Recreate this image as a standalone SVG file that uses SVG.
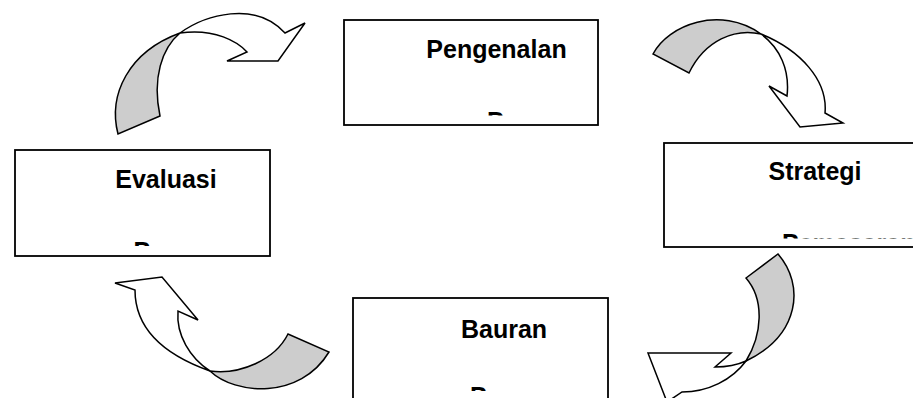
<svg xmlns="http://www.w3.org/2000/svg" width="913" height="398" viewBox="0 0 913 398">
<style>
.box{fill:#ffffff;stroke:#000000;stroke-width:1.8}
.lbl{font-family:"Liberation Sans",Arial,sans-serif;font-weight:bold;font-size:25px;fill:#000000}
.mid{text-anchor:middle}
.back{fill:#cdcdcd;stroke:#000000;stroke-width:1.5;stroke-linejoin:miter}
.front{fill:#ffffff;stroke:#000000;stroke-width:1.5;stroke-linejoin:miter}
</style>
<defs>
<clipPath id="c1"><rect x="346" y="60" width="250" height="55.5"/></clipPath>
<clipPath id="c2"><rect x="17" y="190" width="251" height="56"/></clipPath>
<clipPath id="c3"><rect x="666" y="185" width="247" height="53.5"/></clipPath>
<clipPath id="c4"><rect x="355" y="340" width="251" height="51"/></clipPath>
</defs>
<rect width="913" height="398" fill="#ffffff"/>
<g id="connectors">
<g id="arrow-evaluasi-pengenalan">
<path class="back" d="M118,134 C108,95 128,52 180,33 C162,48 152,78 160,116 Z"/>
<path class="front" d="M180,33 C205,15 255,0 285,33 L305,23 L278,61 L227,61 L247,52 C238,42 215,28 180,33 Z"/>
</g>
<g id="arrow-pengenalan-strategi">
<path class="back" d="M653,54 C668,25 720,5 761,34 C735,28 705,40 689,73 Z"/>
<path class="front" d="M761,34 C800,50 828,80 825,113 L843,123 L800,127 L769,86 L787,96 C790,70 780,48 761,34 Z"/>
</g>
<g id="arrow-strategi-bauran">
<path class="back" d="M778,254 C805,285 800,335 746,361 C762,335 765,300 746,278 Z"/>
<path class="front" d="M746,361 C735,366 725,367 715,367 L731,353 L648,353 L667,402 L682,392 C708,392 732,380 746,361 Z"/>
</g>
<g id="arrow-bauran-evaluasi">
<path class="back" d="M288,334 C275,360 240,375 210,371 C235,395 300,400 329,352 Z"/>
<path class="front" d="M210,371 C165,355 135,330 135,290 L115,283 L162,277 L198,320 L178,311 C176,335 190,358 210,371 Z"/>
</g>
</g>
<g id="node-pengenalan">
<rect class="box" x="344" y="20" width="254" height="105"/>
<text class="lbl mid" x="496.5" y="58">Pengenalan</text>
<text class="lbl" x="487" y="129.5" clip-path="url(#c1)">Pemasaran</text>
</g>
<g id="node-strategi">
<rect class="box" x="664" y="143" width="260" height="104"/>
<text class="lbl mid" x="815" y="180">Strategi</text>
<text class="lbl" x="782" y="251.5" clip-path="url(#c3)">Pemasaran</text>
</g>
<g id="node-bauran">
<rect class="box" x="353" y="298" width="255" height="120"/>
<text class="lbl mid" x="504" y="338">Bauran</text>
<text class="lbl" x="470" y="405" clip-path="url(#c4)">Pemasaran</text>
</g>
<g id="node-evaluasi">
<rect class="box" x="15" y="150" width="255" height="106"/>
<text class="lbl mid" x="166" y="188">Evaluasi</text>
<text class="lbl" x="133.5" y="259.5" clip-path="url(#c2)">Pemasaran</text>
</g>
</svg>
